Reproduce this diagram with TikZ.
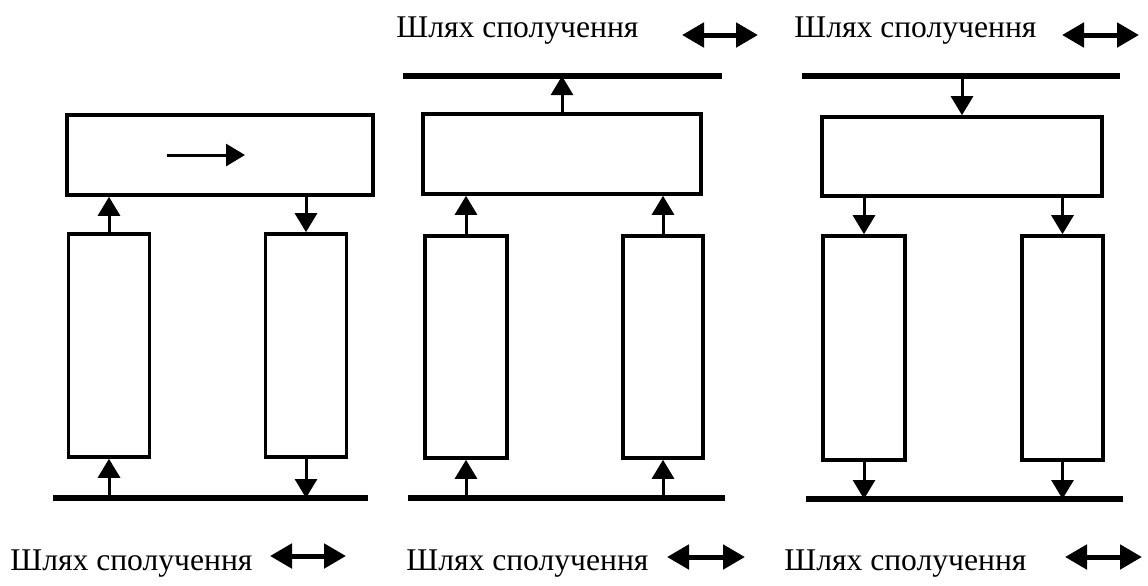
\documentclass[tikz,border=0pt]{standalone}
\usepackage{fontspec}
\setmainfont{Liberation Serif}
\usetikzlibrary{arrows.meta,calc}

\begin{document}
\begin{tikzpicture}[
  x=0.5pt, y=-0.5pt,
  blk/.style={draw,line width=1.8pt,inner sep=0pt},
  bus/.style={line width=2.8pt},
  arr/.style={-{Triangle[length=9.5pt,width=11pt]},line width=1.5pt},
  dbl/.style={{Triangle[length=11pt,width=12pt]}-{Triangle[length=11pt,width=12pt]},line width=2.5pt},
  lbl/.style={anchor=base west,inner sep=0pt,font=\fontsize{15.8}{18}\selectfont}
]
\useasboundingbox (0,0) rectangle (1148,585);

% first unit
\node[blk,minimum width=153pt,minimum height=40pt] (top1) at (220,155) {};
\node[blk,minimum width=40.5pt,minimum height=111.5pt] (left1) at (109,345.5) {};
\node[blk,minimum width=40.5pt,minimum height=111.5pt] (right1) at (306,345.5) {};
\coordinate (bus1w) at (53,498);
\coordinate (bus1e) at (368,498);
\draw[bus] (bus1w) -- (bus1e);
\draw[arr] (left1.south |- bus1w) -- (left1.south);
\draw[arr] (right1.south) -- (right1.south |- bus1w);
\draw[arr] (left1.north) -- (left1.north |- top1.south);
\draw[arr] (right1.north |- top1.south) -- (right1.north);
\draw[arr] ($(top1.center)+(-53,0)$) -- ($(top1.center)+(25,0)$);

% second unit
\node[blk,minimum width=139pt,minimum height=40pt] (top2) at (562,154) {};
\node[blk,minimum width=41pt,minimum height=111pt] (left2) at (466,347) {};
\node[blk,minimum width=40pt,minimum height=111pt] (right2) at (663,347) {};
\coordinate (bus2nw) at (403,76);
\coordinate (bus2ne) at (722,76);
\coordinate (bus2sw) at (408,498);
\coordinate (bus2se) at (725,498);
\draw[bus] (bus2nw) -- (bus2ne);
\draw[bus] (bus2sw) -- (bus2se);
\draw[arr] (top2.north) -- (top2.north |- bus2nw);
\draw[arr] (left2.north) -- (left2.north |- top2.south);
\draw[arr] (right2.north) -- (right2.north |- top2.south);
\draw[arr] (left2.south |- bus2sw) -- (left2.south);
\draw[arr] (right2.south |- bus2sw) -- (right2.south);

% third unit
\node[blk,minimum width=140pt,minimum height=39.5pt] (top3) at (962,156.5) {};
\node[blk,minimum width=41pt,minimum height=112pt] (left3) at (864,348) {};
\node[blk,minimum width=40.5pt,minimum height=112pt] (right3) at (1062.5,348) {};
\coordinate (bus3nw) at (802,76);
\coordinate (bus3ne) at (1120,76);
\coordinate (bus3sw) at (806,499);
\coordinate (bus3se) at (1123,499);
\draw[bus] (bus3nw) -- (bus3ne);
\draw[bus] (bus3sw) -- (bus3se);
\draw[arr] (top3.north |- bus3nw) -- (top3.north);
\draw[arr] (left3.north |- top3.south) -- (left3.north);
\draw[arr] (right3.north |- top3.south) -- (right3.north);
\draw[arr] (left3.south) -- (left3.south |- bus3sw);
\draw[arr] (right3.south) -- (right3.south |- bus3sw);

% labels
\node[lbl] (path1) at (10,570) {Шлях сполучення};
\node[lbl] (path2) at (406,570) {Шлях сполучення};
\node[lbl] (path3) at (784,570) {Шлях сполучення};
\node[lbl] (path4) at (396,37) {Шлях сполучення};
\node[lbl] (path5) at (794,37) {Шлях сполучення};
\coordinate (way1a) at (270,556);  \coordinate (way1b) at (346,556);
\coordinate (way2a) at (667,557);  \coordinate (way2b) at (745,557);
\coordinate (way3a) at (1065,557); \coordinate (way3b) at (1142,557);
\coordinate (way4a) at (682,35);   \coordinate (way4b) at (758,35);
\coordinate (way5a) at (1062,35);  \coordinate (way5b) at (1139,35);
\draw[dbl] (way1a) -- (way1b);
\draw[dbl] (way2a) -- (way2b);
\draw[dbl] (way3a) -- (way3b);
\draw[dbl] (way4a) -- (way4b);
\draw[dbl] (way5a) -- (way5b);
\end{tikzpicture}
\end{document}
